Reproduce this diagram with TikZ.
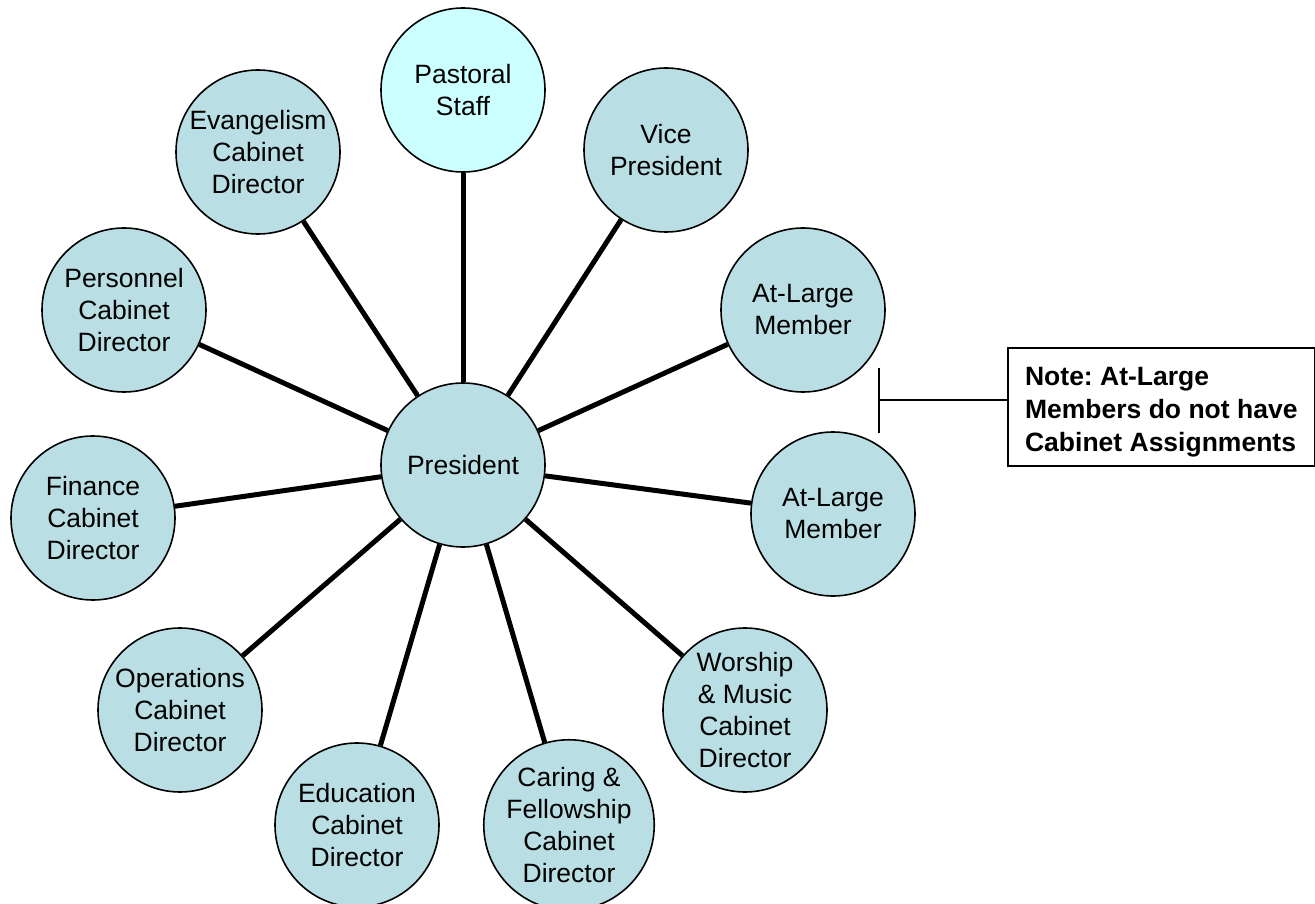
\documentclass[tikz,border=0pt]{standalone}
\usepackage{fontspec}
\setmainfont{Liberation Sans}
\frenchspacing
\definecolor{circfill}{RGB}{185,223,228}
\definecolor{pastfill}{RGB}{204,255,255}
\begin{document}
\begin{tikzpicture}[x=1pt,y=-1pt,
  member/.style={circle, draw=black, line width=1.6pt, fill=circfill, minimum size=164pt, inner sep=0pt,
    align=center, font=\fontsize{26.5}{32}\selectfont},
  link/.style={line width=5pt, black},
  notebox/.style={draw=black, line width=1.6pt, fill=white, align=left, minimum width=307pt, minimum height=118pt,
    inner xsep=17pt, font=\bfseries\fontsize{26.5}{33}\selectfont},
  thin/.style={line width=1.3pt, black}]
\useasboundingbox (0,0) rectangle (1315,904);
% nodes
\node[member] (pres) at (463,465) {President};
\node[member, fill=pastfill] (past) at (463,90) {Pastoral\\Staff};
\node[member] (vp) at (666,150) {Vice\\President};
\node[member] (evan) at (258,152) {Evangelism\\Cabinet\\Director};
\node[member] (pers) at (124,310) {Personnel\\Cabinet\\Director};
\node[member] (al1) at (803,310) {At-Large\\Member};
\node[member] (al2) at (833,514) {At-Large\\Member};
\node[member] (fin) at (93,518) {Finance\\Cabinet\\Director};
\node[member] (ops) at (180,710) {Operations\\Cabinet\\Director};
\node[member] (edu) at (357,825) {Education\\Cabinet\\Director};
\node[member] (car) at (569,825) {Caring \&\\Fellowship\\Cabinet\\Director};
\node[member] (wor) at (745,710) {Worship\\\& Music\\Cabinet\\Director};
% connectors
\foreach \n in {past,vp,evan,pers,al1,al2,fin,ops,edu,car,wor}{
  \draw[link] (pres) -- (\n);
}
% note
\node[notebox, anchor=north west] (note) at (1007,347) {\rule{0pt}{29pt}Note: At-Large\\Members do not have\\Cabinet Assignments};
\coordinate (brtop) at (879,368);
\coordinate (brbot) at (879,433);
\coordinate (brmid) at (879,400);
\draw[thin] (brtop) -- (brbot);
\draw[thin] (brmid) -- (note.west |- brmid);
\end{tikzpicture}
\end{document}
